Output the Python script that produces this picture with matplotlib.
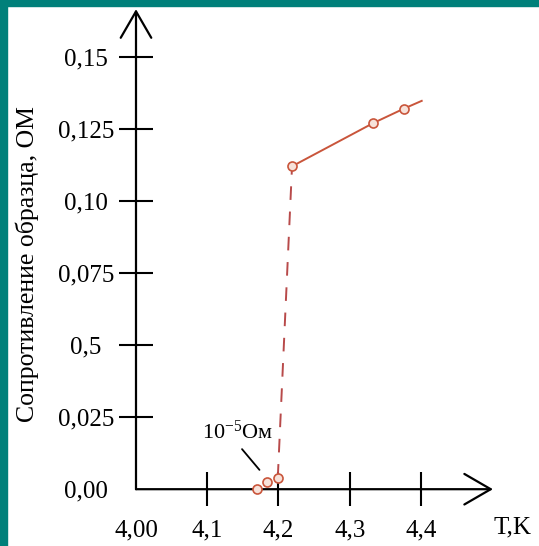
import matplotlib
matplotlib.use("Agg")
import matplotlib.pyplot as plt
import matplotlib.patches as mpatches

# ---- data ----
x_ticks = [4.0, 4.1, 4.2, 4.3, 4.4]
x_tick_labels = ["4,00", "4,1", "4,2", "4,3", "4,4"]
y_ticks = [0.0, 0.025, 0.05, 0.075, 0.10, 0.125, 0.15]
y_tick_labels = ["0,00", "0,025", "0,5", "0,075", "0,10", "0,125", "0,15"]

low_T = [4.170, 4.184, 4.199]
low_R = [0.0, 0.0024, 0.0040]
jump_T = [4.199, 4.219]
jump_R = [0.0040, 0.112]
high_T = [4.219, 4.333, 4.376]
high_R = [0.112, 0.127, 0.132]
line_T = [4.219, 4.333, 4.376, 4.401]
line_R = [0.112, 0.127, 0.132, 0.1347]

x_label = "T,K"
y_label = "Сопротивление образца, ОМ"
note_text = "10$^{-5}$Ом"

plt.rcParams['font.family'] = ['Liberation Serif', 'DejaVu Serif']
plt.rcParams['mathtext.fontset'] = 'custom'
plt.rcParams['mathtext.rm'] = 'Liberation Serif'
plt.rcParams['mathtext.it'] = 'Liberation Serif'

W, H = 539, 546
fig = plt.figure(figsize=(W / 100, H / 100), dpi=100)
fig.patch.set_facecolor('white')

# teal frame (left and top)
fig.patches.append(mpatches.Rectangle((0, 0), 7 / W, 1, transform=fig.transFigure,
                                      color='#00807a', zorder=0))
fig.patches.append(mpatches.Rectangle((0, 1 - 6 / H), 1, 6 / H, transform=fig.transFigure,
                                      color='#00807a', zorder=0))

xlim = (3.95, 4.55)
ylim = (-0.015, 0.168)
px_per_x = 712.5
px_per_y = 2883.0
x0_px = 136.0
y0_px = 489.2
left = x0_px + (xlim[0] - 4.0) * px_per_x
right = x0_px + (xlim[1] - 4.0) * px_per_x
bottom = y0_px - (ylim[0]) * px_per_y
top = y0_px - (ylim[1]) * px_per_y
ax = fig.add_axes([left / W, 1 - bottom / H, (right - left) / W, (bottom - top) / H])
ax.set_xlim(*xlim)
ax.set_ylim(*ylim)
ax.patch.set_alpha(0)
ax.spines['left'].set_position(('data', 4.0))
ax.spines['bottom'].set_position(('data', 0.0))
for s in ax.spines.values():
    s.set_visible(False)

# axes with open arrowheads
ak = dict(arrowstyle='->,head_length=0.95,head_width=0.55', lw=1.6, color='black',
          shrinkA=0, shrinkB=0, mutation_scale=20)
ax.annotate('', xy=(4.0, 0.1665), xytext=(4.0, 0.0), arrowprops=ak, annotation_clip=False)
ax.annotate('', xy=(4.501, 0.0), xytext=(4.0, 0.0), arrowprops=ak, annotation_clip=False)

ax.set_xticks(x_ticks)
ax.set_xticklabels(x_tick_labels)
ax.set_yticks(y_ticks)
ax.set_yticklabels(y_tick_labels)
ax.tick_params(axis='both', direction='inout', length=24, width=1.5, labelsize=18)
ax.tick_params(axis='y', pad=24)
ax.tick_params(axis='x', pad=10)
for lab in ax.get_yticklabels():
    lab.set_horizontalalignment('center')
ax.xaxis.get_major_ticks()[0].tick1line.set_visible(False)
ax.yaxis.get_major_ticks()[0].tick1line.set_visible(False)

col = '#c9553b'
ax.plot(line_T, line_R, color=col, lw=1.4, zorder=3)
ax.plot(jump_T, jump_R, color='#b84a4a', lw=1.4, ls=(0, (7, 6)), zorder=3)
ax.plot(low_T + high_T, low_R + high_R, ls='none', marker='o', ms=6.5,
        mfc='#f7e2da', mec=col, mew=1.2, zorder=4)

ax.text(4.529, -0.0133, x_label, ha='center', va='center', fontsize=18)
fig.text(27.5 / W, 1 - 263.8 / H, y_label, rotation=90, ha='center', va='center', fontsize=18.5)

ax.annotate('', xy=(4.1733, 0.0067), xytext=(4.1488, 0.0139),
            arrowprops=dict(arrowstyle='-', lw=1.3, color='black', shrinkA=0, shrinkB=0))
ax.text(4.1418, 0.0198, note_text, ha='center', va='center', fontsize=16)

fig.savefig('out.png', dpi=100)
